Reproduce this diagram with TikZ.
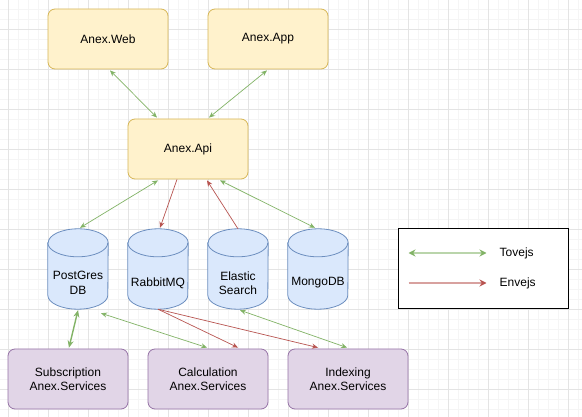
\documentclass[tikz,border=0pt]{standalone}
\usepackage{fontspec}
\setmainfont{Liberation Sans}
\usetikzlibrary{arrows.meta,calc}
\definecolor{yfill}{HTML}{FFF2CC}
\definecolor{ydraw}{HTML}{D6B656}
\definecolor{bfill}{HTML}{DAE8FC}
\definecolor{bdraw}{HTML}{6C8EBF}
\definecolor{pfill}{HTML}{E1D5E7}
\definecolor{pdraw}{HTML}{9673A6}
\definecolor{garr}{HTML}{82B366}
\definecolor{rarr}{HTML}{B85450}
\definecolor{gridmaj}{HTML}{E4E4E4}
\definecolor{gridmin}{HTML}{F5F5F5}
\tikzset{
  ybox/.style={draw=ydraw,fill=yfill,rounded corners=7pt,minimum width=120pt,minimum height=60pt,line width=0.8pt,font=\fontsize{12}{14}\selectfont},
  pbox/.style={draw=pdraw,fill=pfill,rounded corners=7pt,minimum width=120pt,minimum height=60pt,line width=0.8pt,align=center,font=\fontsize{12}{14.5}\selectfont},
  dbnode/.style={minimum width=60pt,minimum height=80pt,inner sep=0pt},
  dbtext/.style={align=center,font=\fontsize{12}{14.5}\selectfont,inner sep=0pt},
  dbshape/.style={draw=bdraw,fill=bfill,line width=0.8pt},
  twoway/.style={draw=garr,line width=0.7pt,{Stealth[length=6pt,width=5pt]}-{Stealth[length=6pt,width=5pt]}},
  oneway/.style={draw=rarr,line width=0.7pt,-{Stealth[length=6pt,width=5pt]}},
}
\begin{document}
\begin{tikzpicture}[x=1pt,y=-1pt]
\useasboundingbox (0,0) rectangle (582,417);
\fill[white] (0,0) rectangle (582,417);
% grid
\foreach \gx in {8,18,...,578} \draw[gridmin,line width=0.5pt] (\gx,0) -- (\gx,417);
\foreach \gy in {9,19,...,409} \draw[gridmin,line width=0.5pt] (0,\gy) -- (582,\gy);
\foreach \gx in {8,48,...,568} \draw[gridmaj,line width=0.7pt] (\gx,0) -- (\gx,417);
\foreach \gy in {29,69,...,389} \draw[gridmaj,line width=0.7pt] (0,\gy) -- (582,\gy);

% boxes
\node[ybox] (web) at (108,39) {Anex.Web};
\node[ybox] (app) at (268,39) {Anex.App};
\node[ybox] (api) at (188,149) {Anex.Api};

% databases
\node[dbnode] (pg) at (78,269) {};
\node[dbnode] (rmq) at (158,269) {};
\node[dbnode] (es) at (238,269) {};
\node[dbnode] (mdb) at (318,269) {};
\foreach \n in {pg,rmq,es,mdb}{
  \draw[dbshape] ([yshift=-14pt]\n.north west) -- ([yshift=14pt]\n.south west)
    arc[start angle=180,end angle=360,x radius=30pt,y radius=14pt]
    -- ([yshift=-14pt]\n.north east)
    arc[start angle=0,end angle=180,x radius=30pt,y radius=14pt] -- cycle;
  \draw[bdraw,line width=0.8pt] ([yshift=-14pt]\n.north west)
    arc[start angle=180,end angle=360,x radius=30pt,y radius=14pt];
}
\node[dbtext] (pgt) at (78,283) {PostGres\\DB};
\node[dbtext] (rmqt) at (158,283) {RabbitMQ};
\node[dbtext] (est) at (238,283) {Elastic\\Search};
\node[dbtext] (mdbt) at (318,283) {MongoDB};

% services
\node[pbox] (sub) at (68,379) {Subscription\\Anex.Services};
\node[pbox] (calc) at (208,379) {Calculation\\Anex.Services};
\node[pbox] (idx) at (348,379) {Indexing\\Anex.Services};

% connectors
\draw[twoway] ([xshift=2pt,yshift=-1pt]web.south) -- ([xshift=-31pt,yshift=1pt]api.north);
\draw[twoway] ([xshift=-1pt,yshift=-1pt]app.south) -- ([xshift=21pt,yshift=1pt]api.north);
\draw[twoway] ([xshift=-30pt,yshift=-1pt]api.south) -- ([xshift=2pt,yshift=1pt]pg.north);
\draw[oneway] ([xshift=-11pt]api.south) -- ([xshift=2pt,yshift=1pt]rmq.north);
\draw[oneway] (es.north) -- ([xshift=19pt,yshift=-1pt]api.south);
\draw[twoway] ([xshift=32pt,yshift=-1pt]api.south) -- ([xshift=-3pt,yshift=1pt]mdb.north);
\draw[draw=garr,line width=1.4pt,{Stealth[length=7pt,width=6pt]}-{Stealth[length=7pt,width=6pt]}] ([yshift=-1pt]pg.south) -- ([xshift=1pt,yshift=1pt]sub.north);
\draw[twoway] ([xshift=23pt,yshift=-4pt]pg.south) -- ([xshift=-1pt,yshift=1pt]calc.north);
\draw[oneway] (rmq.south) -- ([xshift=30pt,yshift=1pt]calc.north);
\draw[oneway] (rmq.south) -- ([xshift=-30pt,yshift=1pt]idx.north);
\draw[twoway] ([xshift=2pt,yshift=-1pt]es.south) -- ([xshift=-1pt,yshift=1pt]idx.north);

% legend
\node[draw=black,fill=white,line width=1pt,minimum width=170pt,minimum height=80pt] (legend) at (483,269) {};
\coordinate (g1) at ([xshift=11pt,yshift=16pt]legend.west);
\coordinate (g2) at ([xshift=89pt,yshift=16pt]legend.west);
\coordinate (r1) at ([xshift=11pt,yshift=-14pt]legend.west);
\coordinate (r2) at ([xshift=89pt,yshift=-14pt]legend.west);
\draw[draw=garr!55,line width=2pt,{Stealth[length=7pt,width=7pt,color=garr]}-{Stealth[length=7pt,width=7pt,color=garr]}] (g1) -- (g2);
\draw[draw=rarr!55,line width=2pt,-{Stealth[length=7pt,width=7pt,color=rarr]}] (r1) -- (r2);
\node[anchor=west,inner sep=0pt,font=\fontsize{12}{14}\selectfont] (tov) at ([xshift=13pt]g2) {Tovejs};
\node[anchor=west,inner sep=0pt,font=\fontsize{12}{14}\selectfont] (env) at ([xshift=13pt]r2) {Envejs};
\end{tikzpicture}
\end{document}
